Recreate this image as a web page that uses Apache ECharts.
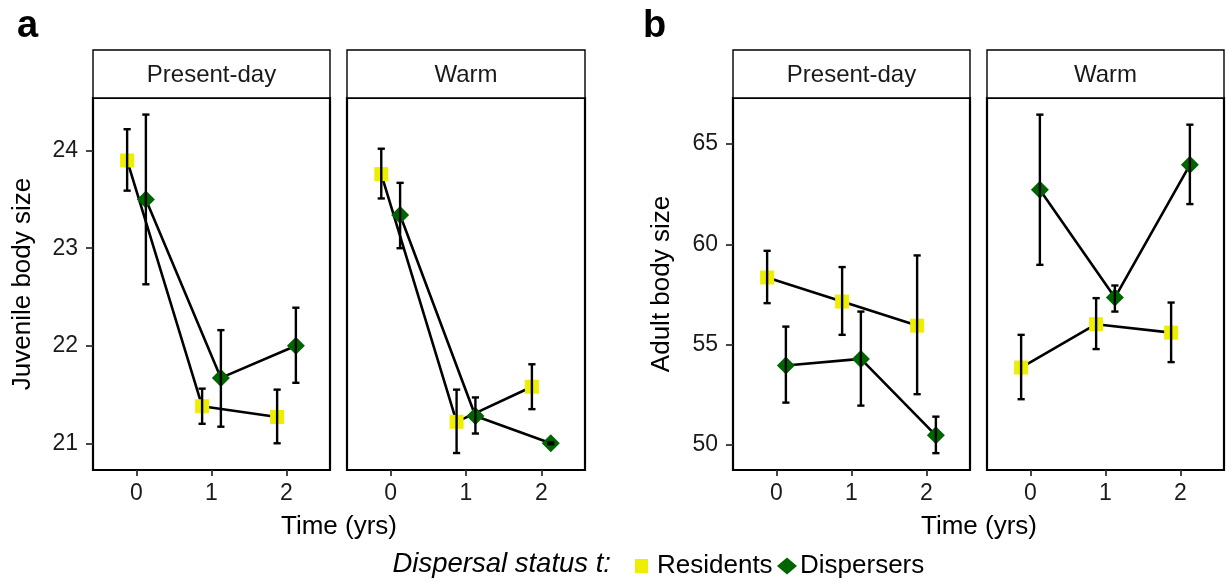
<!DOCTYPE html>
<html>
<head>
<meta charset="utf-8">
<script src="https://cdn.jsdelivr.net/npm/echarts@6/dist/echarts.min.js"></script>
<style>html,body{margin:0;padding:0;background:#fff;}#c{width:1226px;height:582px;}</style>
</head>
<body>
<div id="c"></div>
<script>
// ---- data ----
const times = [0, 1, 2];
const xTicks = [0, 1, 2];
const juvTicks = [21, 22, 23, 24];
const adultTicks = [50, 55, 60, 65];
const panelTitles = ['Present-day', 'Warm', 'Present-day', 'Warm'];
const seriesNames = ['Residents', 'Dispersers'];

// Juvenile body size (panel a)
const juvPresentRes   = [23.90, 21.38, 21.27];
const juvPresentResLo = [23.59, 21.20, 21.00];
const juvPresentResHi = [24.22, 21.56, 21.55];
const juvPresentDis   = [23.50, 21.67, 22.00];
const juvPresentDisLo = [22.63, 21.17, 21.62];
const juvPresentDisHi = [24.37, 22.16, 22.39];

const juvWarmRes   = [23.76, 21.22, 21.58];
const juvWarmResLo = [23.51, 20.90, 21.35];
const juvWarmResHi = [24.02, 21.55, 21.81];
const juvWarmDis   = [23.34, 21.28, 21.00];
const juvWarmDisLo = [23.00, 21.10, 20.99];
const juvWarmDisHi = [23.67, 21.47, 21.01];

// Adult body size (panel b)
const adPresentRes   = [58.35, 57.15, 55.95];
const adPresentResLo = [57.07, 55.49, 52.53];
const adPresentResHi = [59.68, 58.87, 59.45];
const adPresentDis   = [53.96, 54.29, 50.48];
const adPresentDisLo = [52.11, 51.96, 49.59];
const adPresentDisHi = [55.90, 56.65, 51.41];

const adWarmRes   = [53.86, 56.02, 55.60];
const adWarmResLo = [52.28, 54.78, 54.13];
const adWarmResHi = [55.49, 57.32, 57.10];
const adWarmDis   = [62.72, 57.35, 63.97];
const adWarmDisLo = [58.98, 56.65, 62.01];
const adWarmDisHi = [66.47, 57.95, 65.97];

// ---- build ----
const DODGE = 0.125;
const RES_COLOR = '#EEEE00';
const DIS_COLOR = '#006400';
const panels = [
  {res: [juvPresentRes, juvPresentResLo, juvPresentResHi], dis: [juvPresentDis, juvPresentDisLo, juvPresentDisHi]},
  {res: [juvWarmRes, juvWarmResLo, juvWarmResHi], dis: [juvWarmDis, juvWarmDisLo, juvWarmDisHi]},
  {res: [adPresentRes, adPresentResLo, adPresentResHi], dis: [adPresentDis, adPresentDisLo, adPresentDisHi]},
  {res: [adWarmRes, adWarmResLo, adWarmResHi], dis: [adWarmDis, adWarmDisLo, adWarmDisHi]}
];
const gridPos = [
  {left: 93, top: 98, width: 237, height: 372},
  {left: 347, top: 98, width: 238, height: 372},
  {left: 733, top: 98, width: 237, height: 372},
  {left: 987, top: 98, width: 237, height: 372}
];
const yRanges = [[20.726, 24.54], [20.726, 24.54], [48.75, 67.3], [48.75, 67.3]];
const FONT = 'Liberation Sans, Arial, sans-serif';

const grids = [], xAxes = [], yAxes = [], series = [], graphics = [];

function errRender(params, api) {
  const x = api.value(0), lo = api.value(1), hi = api.value(2);
  const t = api.coord([x, hi]), b = api.coord([x, lo]);
  const cw = 3.6;
  const st = {stroke: '#000', lineWidth: 2.4};
  return {type: 'group', children: [
    {type: 'line', shape: {x1: t[0], y1: t[1], x2: b[0], y2: b[1]}, style: st},
    {type: 'line', shape: {x1: t[0] - cw, y1: t[1], x2: t[0] + cw, y2: t[1]}, style: st},
    {type: 'line', shape: {x1: b[0] - cw, y1: b[1], x2: b[0] + cw, y2: b[1]}, style: st}
  ]};
}

panels.forEach((p, i) => {
  grids.push(Object.assign({show: true, borderColor: '#000', borderWidth: 2.2, backgroundColor: '#fff'}, gridPos[i]));
  xAxes.push({
    type: 'value', gridIndex: i, min: -0.58, max: 2.58,
    splitLine: {show: false}, axisLine: {show: false, onZero: false},
    axisTick: {show: true, length: 6, lineStyle: {color: '#333', width: 1.8}, customValues: xTicks},
    axisLabel: {show: true, margin: 12, fontSize: 23, color: '#1a1a1a', fontFamily: FONT, customValues: xTicks}
  });
  const showY = (i === 0 || i === 2);
  yAxes.push({
    type: 'value', gridIndex: i, min: yRanges[i][0], max: yRanges[i][1],
    splitLine: {show: false}, axisLine: {show: false, onZero: false},
    axisTick: {show: showY, length: 7, lineStyle: {color: '#333', width: 1.8}, customValues: (i < 2 ? juvTicks : adultTicks)},
    axisLabel: {show: showY, margin: 15, fontSize: 23, color: '#1a1a1a', fontFamily: FONT, customValues: (i < 2 ? juvTicks : adultTicks)}
  });
  const groups = [
    {name: seriesNames[0], vals: p.res, off: -DODGE, symbol: 'rect', size: 14, color: RES_COLOR},
    {name: seriesNames[1], vals: p.dis, off: DODGE, symbol: 'diamond', size: 18, color: DIS_COLOR}
  ];
  groups.forEach(g => {
    series.push({
      type: 'line', name: g.name, xAxisIndex: i, yAxisIndex: i,
      data: times.map((t, k) => [t + g.off, g.vals[0][k]]),
      symbol: g.symbol, symbolSize: g.size, showSymbol: true,
      lineStyle: {color: '#000', width: 2.6},
      itemStyle: {color: g.color, borderWidth: 0, opacity: 1},
      emphasis: {disabled: true}, animation: false, z: 2
    });
  });
  groups.forEach(g => {
    series.push({
      type: 'custom', xAxisIndex: i, yAxisIndex: i,
      data: times.map((t, k) => [t + g.off, g.vals[1][k], g.vals[2][k]]),
      encode: {x: 0, y: [1, 2]},
      renderItem: errRender, animation: false, z: 5, silent: true
    });
  });
  // strip
  const gp = gridPos[i];
  graphics.push({type: 'rect', shape: {x: gp.left, y: 50, width: gp.width, height: 48},
    style: {fill: '#fff', stroke: '#000', lineWidth: 1.4}, z: 10});
  graphics.push({type: 'text', x: gp.left + gp.width / 2, y: 75,
    style: {text: panelTitles[i], fontSize: 24, fontFamily: FONT, fill: '#1a1a1a', align: 'center', verticalAlign: 'middle'}, z: 11});
});

// axis titles & panel letters
graphics.push({type: 'text', x: 339, y: 527, style: {text: 'Time (yrs)', fontSize: 26, fontFamily: FONT, fill: '#000', align: 'center', verticalAlign: 'middle'}});
graphics.push({type: 'text', x: 979, y: 527, style: {text: 'Time (yrs)', fontSize: 26, fontFamily: FONT, fill: '#000', align: 'center', verticalAlign: 'middle'}});
graphics.push({type: 'text', x: 23, y: 284, rotation: Math.PI / 2, style: {text: 'Juvenile body size', fontSize: 26, fontFamily: FONT, fill: '#000', align: 'center', verticalAlign: 'middle'}});
graphics.push({type: 'text', x: 662, y: 284, rotation: Math.PI / 2, style: {text: 'Adult body size', fontSize: 26, fontFamily: FONT, fill: '#000', align: 'center', verticalAlign: 'middle'}});
graphics.push({type: 'text', x: 17, y: 27, style: {text: 'a', fontSize: 38, fontWeight: 'bold', fontFamily: FONT, fill: '#000', align: 'left', verticalAlign: 'middle'}});
graphics.push({type: 'text', x: 643, y: 27, style: {text: 'b', fontSize: 38, fontWeight: 'bold', fontFamily: FONT, fill: '#000', align: 'left', verticalAlign: 'middle'}});
graphics.push({type: 'text', x: 611, y: 564, style: {text: 'Dispersal status t:', fontSize: 27.5, fontStyle: 'italic', fontFamily: FONT, fill: '#000', align: 'right', verticalAlign: 'middle'}});

const chart = echarts.init(document.getElementById('c'), null, {renderer: 'canvas'});
chart.setOption({
  backgroundColor: '#fff',
  animation: false,
  grid: grids, xAxis: xAxes, yAxis: yAxes,
  legend: [
    {
      left: 635, top: 553, itemWidth: 13, itemHeight: 14, selectedMode: false, padding: 0,
      textStyle: {fontSize: 26, fontFamily: FONT, color: '#000', padding: [0, 0, 0, 4]},
      data: [{name: seriesNames[0], icon: 'rect', itemStyle: {color: RES_COLOR}}]
    },
    {
      left: 777, top: 553, itemWidth: 20, itemHeight: 17, selectedMode: false, padding: 0,
      textStyle: {fontSize: 26, fontFamily: FONT, color: '#000', padding: [0, 0, 0, -2]},
      data: [{name: seriesNames[1], icon: 'diamond', itemStyle: {color: DIS_COLOR}}]
    }
  ],
  graphic: graphics,
  series: series
});
</script>
</body>
</html>
